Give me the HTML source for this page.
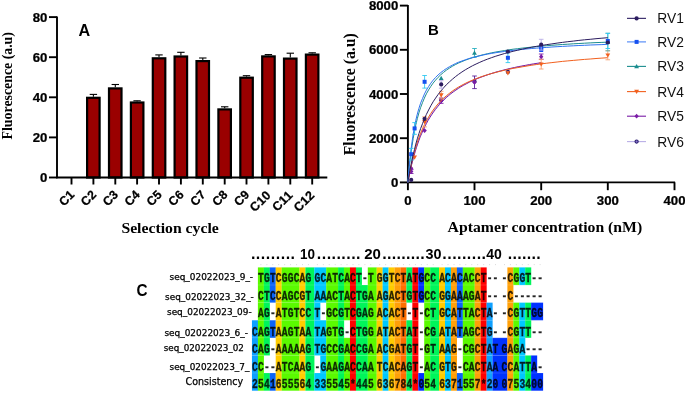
<!DOCTYPE html>
<html lang="en"><head><meta charset="utf-8"><title>Figure</title>
<style>html,body{margin:0;padding:0;background:#fff;overflow:hidden;}svg{display:block;filter:blur(0.45px);}.tk{font-family:"Liberation Sans", Arial, sans-serif;font-weight:700;font-size:12px;fill:#000;stroke:#000;stroke-width:0.25;}.ax{stroke:#000;stroke-width:1.9;fill:none;}.ttl{font-family:"Liberation Serif", "Times New Roman", serif;font-weight:700;font-size:14px;fill:#000;}.pl{font-family:"Liberation Sans", Arial, sans-serif;font-weight:700;font-size:15.5px;fill:#000;}.lg{font-family:"Liberation Sans", Arial, sans-serif;font-size:15px;fill:#111;}.sq{font-family:"Liberation Mono", "Courier New", monospace;font-weight:700;font-size:13px;fill:#000;fill-opacity:0.82;stroke:#000;stroke-width:0.35;stroke-opacity:0.8;}.nm{font-family:"DejaVu Sans", "Liberation Sans", sans-serif;font-size:8.6px;fill:#000;stroke:#000;stroke-width:0.25;}.hd{font-family:"Liberation Sans", Arial, sans-serif;font-weight:700;font-size:14px;fill:#000;}</style></head><body>
<svg width="685" height="409" viewBox="0 0 685 409">
<rect width="685" height="409" fill="#fff"/>
<g id="panelA">
<line class="ax" x1="71.5" y1="177.5" x2="71.5" y2="184.5"/>
<text class="tk" style="font-size:12.3px" text-anchor="end" transform="translate(75.1,195.5) rotate(-45)">C1</text>
<line x1="93.4" y1="96.7" x2="93.4" y2="94.4" stroke="#000" stroke-width="1.1"/>
<line x1="89.7" y1="94.4" x2="97.1" y2="94.4" stroke="#000" stroke-width="1.1"/>
<rect x="87.1" y="97.8" width="12.5" height="79.7" fill="#9a0000" stroke="#000" stroke-width="2.2"/>
<line class="ax" x1="93.4" y1="177.5" x2="93.4" y2="184.5"/>
<text class="tk" style="font-size:12.3px" text-anchor="end" transform="translate(97.0,195.5) rotate(-45)">C2</text>
<line x1="115.3" y1="87.3" x2="115.3" y2="84.5" stroke="#000" stroke-width="1.1"/>
<line x1="111.6" y1="84.5" x2="119.0" y2="84.5" stroke="#000" stroke-width="1.1"/>
<rect x="109.0" y="88.4" width="12.5" height="89.1" fill="#9a0000" stroke="#000" stroke-width="2.2"/>
<line class="ax" x1="115.3" y1="177.5" x2="115.3" y2="184.5"/>
<text class="tk" style="font-size:12.3px" text-anchor="end" transform="translate(118.9,195.5) rotate(-45)">C3</text>
<line x1="137.1" y1="101.4" x2="137.1" y2="100.8" stroke="#000" stroke-width="1.1"/>
<line x1="133.4" y1="100.8" x2="140.8" y2="100.8" stroke="#000" stroke-width="1.1"/>
<rect x="130.9" y="102.5" width="12.5" height="75.0" fill="#9a0000" stroke="#000" stroke-width="2.2"/>
<line class="ax" x1="137.1" y1="177.5" x2="137.1" y2="184.5"/>
<text class="tk" style="font-size:12.3px" text-anchor="end" transform="translate(140.7,195.5) rotate(-45)">C4</text>
<line x1="159.0" y1="57.2" x2="159.0" y2="54.9" stroke="#000" stroke-width="1.1"/>
<line x1="155.3" y1="54.9" x2="162.7" y2="54.9" stroke="#000" stroke-width="1.1"/>
<rect x="152.8" y="58.3" width="12.5" height="119.2" fill="#9a0000" stroke="#000" stroke-width="2.2"/>
<line class="ax" x1="159.0" y1="177.5" x2="159.0" y2="184.5"/>
<text class="tk" style="font-size:12.3px" text-anchor="end" transform="translate(162.6,195.5) rotate(-45)">C5</text>
<line x1="180.9" y1="55.4" x2="180.9" y2="52.3" stroke="#000" stroke-width="1.1"/>
<line x1="177.2" y1="52.3" x2="184.6" y2="52.3" stroke="#000" stroke-width="1.1"/>
<rect x="174.6" y="56.5" width="12.5" height="121.0" fill="#9a0000" stroke="#000" stroke-width="2.2"/>
<line class="ax" x1="180.9" y1="177.5" x2="180.9" y2="184.5"/>
<text class="tk" style="font-size:12.3px" text-anchor="end" transform="translate(184.5,195.5) rotate(-45)">C6</text>
<line x1="202.8" y1="60.0" x2="202.8" y2="58.0" stroke="#000" stroke-width="1.1"/>
<line x1="199.1" y1="58.0" x2="206.5" y2="58.0" stroke="#000" stroke-width="1.1"/>
<rect x="196.5" y="61.1" width="12.5" height="116.4" fill="#9a0000" stroke="#000" stroke-width="2.2"/>
<line class="ax" x1="202.8" y1="177.5" x2="202.8" y2="184.5"/>
<text class="tk" style="font-size:12.3px" text-anchor="end" transform="translate(206.4,195.5) rotate(-45)">C7</text>
<line x1="224.7" y1="108.3" x2="224.7" y2="106.8" stroke="#000" stroke-width="1.1"/>
<line x1="221.0" y1="106.8" x2="228.4" y2="106.8" stroke="#000" stroke-width="1.1"/>
<rect x="218.4" y="109.4" width="12.5" height="68.1" fill="#9a0000" stroke="#000" stroke-width="2.2"/>
<line class="ax" x1="224.7" y1="177.5" x2="224.7" y2="184.5"/>
<text class="tk" style="font-size:12.3px" text-anchor="end" transform="translate(228.3,195.5) rotate(-45)">C8</text>
<line x1="246.5" y1="76.6" x2="246.5" y2="75.7" stroke="#000" stroke-width="1.1"/>
<line x1="242.8" y1="75.7" x2="250.2" y2="75.7" stroke="#000" stroke-width="1.1"/>
<rect x="240.3" y="77.7" width="12.5" height="99.8" fill="#9a0000" stroke="#000" stroke-width="2.2"/>
<line class="ax" x1="246.5" y1="177.5" x2="246.5" y2="184.5"/>
<text class="tk" style="font-size:12.3px" text-anchor="end" transform="translate(250.1,195.5) rotate(-45)">C9</text>
<line x1="268.4" y1="55.3" x2="268.4" y2="54.6" stroke="#000" stroke-width="1.1"/>
<line x1="264.7" y1="54.6" x2="272.1" y2="54.6" stroke="#000" stroke-width="1.1"/>
<rect x="262.2" y="56.4" width="12.5" height="121.1" fill="#9a0000" stroke="#000" stroke-width="2.2"/>
<line class="ax" x1="268.4" y1="177.5" x2="268.4" y2="184.5"/>
<text class="tk" style="font-size:12.5px;letter-spacing:0.25px" text-anchor="end" transform="translate(271.6,195.8) rotate(-45)">C10</text>
<line x1="290.3" y1="57.5" x2="290.3" y2="53.2" stroke="#000" stroke-width="1.1"/>
<line x1="286.6" y1="53.2" x2="294.0" y2="53.2" stroke="#000" stroke-width="1.1"/>
<rect x="284.0" y="58.6" width="12.5" height="118.9" fill="#9a0000" stroke="#000" stroke-width="2.2"/>
<line class="ax" x1="290.3" y1="177.5" x2="290.3" y2="184.5"/>
<text class="tk" style="font-size:12.5px;letter-spacing:0.25px" text-anchor="end" transform="translate(293.5,195.8) rotate(-45)">C11</text>
<line x1="312.2" y1="53.5" x2="312.2" y2="52.8" stroke="#000" stroke-width="1.1"/>
<line x1="308.5" y1="52.8" x2="315.9" y2="52.8" stroke="#000" stroke-width="1.1"/>
<rect x="305.9" y="54.6" width="12.5" height="122.9" fill="#9a0000" stroke="#000" stroke-width="2.2"/>
<line class="ax" x1="312.2" y1="177.5" x2="312.2" y2="184.5"/>
<text class="tk" style="font-size:12.5px;letter-spacing:0.25px" text-anchor="end" transform="translate(315.4,195.8) rotate(-45)">C12</text>
<line class="ax" x1="57.0" y1="16.5" x2="57.0" y2="178.2"/>
<line class="ax" x1="56.4" y1="177.5" x2="327.3" y2="177.5"/>
<line class="ax" x1="49.0" y1="177.5" x2="57.0" y2="177.5"/>
<text class="tk" text-anchor="end" transform="translate(47.4,182.0) scale(1.100,1)">0</text>
<line class="ax" x1="49.0" y1="137.4" x2="57.0" y2="137.4"/>
<text class="tk" text-anchor="end" transform="translate(47.4,141.9) scale(1.100,1)">20</text>
<line class="ax" x1="49.0" y1="97.3" x2="57.0" y2="97.3"/>
<text class="tk" text-anchor="end" transform="translate(47.4,101.8) scale(1.100,1)">40</text>
<line class="ax" x1="49.0" y1="57.2" x2="57.0" y2="57.2"/>
<text class="tk" text-anchor="end" transform="translate(47.4,61.7) scale(1.100,1)">60</text>
<line class="ax" x1="49.0" y1="17.1" x2="57.0" y2="17.1"/>
<text class="tk" text-anchor="end" transform="translate(47.4,21.6) scale(1.100,1)">80</text>
<text class="pl" style="font-size:16.2px" transform="translate(78.6,35.6) scale(1,0.98)">A</text>
<text class="ttl" x="121.4" y="232.8" textLength="97.4" lengthAdjust="spacingAndGlyphs">Selection cycle</text>
<text class="ttl" style="font-size:13.85px" text-anchor="middle" transform="translate(11.6,85.75) rotate(-90) scale(1,1.1)">Fluorescence (a.u)</text>
</g>
<g id="panelB">
<line class="ax" x1="407.9" y1="5.0" x2="407.9" y2="183.1"/>
<line class="ax" x1="407.3" y1="182.4" x2="675.1" y2="182.4"/>
<line class="ax" x1="399.9" y1="182.4" x2="407.9" y2="182.4"/>
<text class="tk" text-anchor="end" transform="translate(398.3,186.9) scale(1.100,1)">0</text>
<line class="ax" x1="399.9" y1="138.2" x2="407.9" y2="138.2"/>
<text class="tk" text-anchor="end" transform="translate(398.3,142.7) scale(1.100,1)">2000</text>
<line class="ax" x1="399.9" y1="94.0" x2="407.9" y2="94.0"/>
<text class="tk" text-anchor="end" transform="translate(398.3,98.5) scale(1.100,1)">4000</text>
<line class="ax" x1="399.9" y1="49.8" x2="407.9" y2="49.8"/>
<text class="tk" text-anchor="end" transform="translate(398.3,54.3) scale(1.100,1)">6000</text>
<line class="ax" x1="399.9" y1="5.6" x2="407.9" y2="5.6"/>
<text class="tk" text-anchor="end" transform="translate(398.3,10.1) scale(1.100,1)">8000</text>
<line class="ax" x1="407.9" y1="182.4" x2="407.9" y2="190.2"/>
<text class="tk" text-anchor="middle" transform="translate(407.9,205.0) scale(1.100,1)">0</text>
<line class="ax" x1="474.5" y1="182.4" x2="474.5" y2="190.2"/>
<text class="tk" text-anchor="middle" transform="translate(474.5,205.0) scale(1.100,1)">100</text>
<line class="ax" x1="541.2" y1="182.4" x2="541.2" y2="190.2"/>
<text class="tk" text-anchor="middle" transform="translate(541.2,205.0) scale(1.100,1)">200</text>
<line class="ax" x1="607.8" y1="182.4" x2="607.8" y2="190.2"/>
<text class="tk" text-anchor="middle" transform="translate(607.8,205.0) scale(1.100,1)">300</text>
<line class="ax" x1="674.5" y1="182.4" x2="674.5" y2="190.2"/>
<text class="tk" text-anchor="middle" transform="translate(674.5,205.0) scale(1.100,1)">400</text>
<text class="pl" style="font-size:15px" transform="translate(428.0,34.9) scale(1,1.03)">B</text>
<text class="ttl" x="447.6" y="231.6" textLength="194.6" lengthAdjust="spacingAndGlyphs">Aptamer concentration (nM)</text>
<text class="ttl" style="font-size:15.75px" text-anchor="middle" transform="translate(354.5,94.3) rotate(-90) scale(1,1.03)">Fluorescence (a.u)</text>
<path d="M407.9 182.4 L408.0 181.9 L408.2 180.8 L408.5 179.0 L408.9 176.9 L409.4 174.3 L410.0 171.4 L410.7 168.2 L411.4 164.8 L412.3 161.3 L413.2 157.7 L414.2 154.0 L415.3 150.2 L416.4 146.5 L417.6 142.8 L418.9 139.2 L420.2 135.6 L421.7 132.2 L423.2 128.8 L424.7 125.5 L426.4 122.3 L428.0 119.3 L429.8 116.3 L431.6 113.5 L433.5 110.8 L435.5 108.2 L437.5 105.7 L439.6 103.4 L441.7 101.1 L443.9 98.9 L446.2 96.8 L448.5 94.8 L450.9 93.0 L453.3 91.1 L455.9 89.4 L458.4 87.8 L461.0 86.2 L463.7 84.7 L466.5 83.3 L469.3 81.9 L472.1 80.6 L475.1 79.3 L478.0 78.1 L481.1 77.0 L484.2 75.9 L487.3 74.8 L490.5 73.8 L493.8 72.8 L497.1 71.9 L500.5 71.0 L503.9 70.2 L507.4 69.4 L510.9 68.6 L514.5 67.8 L518.2 67.1 L521.9 66.4 L525.6 65.7 L529.4 65.1 L533.3 64.5 L537.2 63.9 L541.2 63.3" fill="none" stroke="#b9aee6" stroke-width="1.0"/>
<circle cx="474.5" cy="81.6" r="1.6" fill="#8878cc" stroke="#2c1d70" stroke-width="1.1"/>
<circle cx="507.9" cy="72.0" r="1.6" fill="#8878cc" stroke="#2c1d70" stroke-width="1.1"/>
<circle cx="441.2" cy="100.0" r="1.6" fill="#8878cc" stroke="#2c1d70" stroke-width="1.1"/>
<path d="M407.9 182.4 L408.0 181.9 L408.2 180.8 L408.5 179.2 L408.9 177.1 L409.4 174.6 L410.0 171.9 L410.7 168.8 L411.4 165.5 L412.3 162.1 L413.2 158.6 L414.2 155.0 L415.3 151.3 L416.4 147.7 L417.6 144.1 L418.9 140.5 L420.2 136.9 L421.7 133.5 L423.2 130.1 L424.7 126.8 L426.4 123.6 L428.0 120.6 L429.8 117.6 L431.6 114.8 L433.5 112.0 L435.5 109.4 L437.5 106.8 L439.6 104.4 L441.7 102.1 L443.9 99.9 L446.2 97.7 L448.5 95.7 L450.9 93.7 L453.3 91.9 L455.9 90.1 L458.4 88.4 L461.0 86.7 L463.7 85.2 L466.5 83.7 L469.3 82.2 L472.1 80.9 L475.1 79.6 L478.0 78.3 L481.1 77.1 L484.2 76.0 L487.3 74.9 L490.5 73.8 L493.8 72.8 L497.1 71.8 L500.5 70.9 L503.9 70.0 L507.4 69.1 L510.9 68.3 L514.5 67.5 L518.2 66.7 L521.9 66.0 L525.6 65.3 L529.4 64.6 L533.3 63.9 L537.2 63.3 L541.2 62.7" fill="none" stroke="#7a1ca6" stroke-width="1.0"/>
<path d="M411.2 169.6 V173.5 M408.9 169.6 h4.6 M408.9 173.5 h4.6" stroke="#7a1ca6" stroke-width="0.9" fill="none"/>
<path d="M411.2 169.1 l2.2 2.4 l-2.2 2.4 l-2.2 -2.4z" fill="#7a1ca6"/>
<path d="M411.2 165.9 l2.2 2.4 l-2.2 2.4 l-2.2 -2.4z" fill="#7a1ca6"/>
<path d="M424.6 128.2 l2.2 2.4 l-2.2 2.4 l-2.2 -2.4z" fill="#7a1ca6"/>
<path d="M441.2 98.0 V103.3 M438.9 98.0 h4.6 M438.9 103.3 h4.6" stroke="#7a1ca6" stroke-width="0.9" fill="none"/>
<path d="M441.2 98.2 l2.2 2.4 l-2.2 2.4 l-2.2 -2.4z" fill="#7a1ca6"/>
<path d="M474.5 76.0 V88.6 M472.2 76.0 h4.6 M472.2 88.6 h4.6" stroke="#5a1e96" stroke-width="0.9" fill="none"/>
<path d="M474.5 79.9 l2.2 2.4 l-2.2 2.4 l-2.2 -2.4z" fill="#7a1ca6"/>
<path d="M541.2 54.0 V59.3 M538.9 54.0 h4.6 M538.9 59.3 h4.6" stroke="#7a1ca6" stroke-width="0.9" fill="none"/>
<path d="M541.2 54.3 l2.2 2.4 l-2.2 2.4 l-2.2 -2.4z" fill="#7a1ca6"/>
<path d="M407.9 182.4 L408.0 181.7 L408.3 179.8 L408.8 177.2 L409.4 173.8 L410.2 170.0 L411.1 165.7 L412.1 161.2 L413.2 156.5 L414.5 151.8 L415.8 147.0 L417.3 142.3 L418.9 137.7 L420.6 133.2 L422.5 128.9 L424.4 124.7 L426.4 120.8 L428.6 117.0 L430.8 113.4 L433.1 110.1 L435.6 106.8 L438.1 103.8 L440.8 101.0 L443.5 98.3 L446.3 95.8 L449.3 93.4 L452.3 91.1 L455.4 89.0 L458.6 87.0 L461.9 85.2 L465.3 83.4 L468.8 81.7 L472.4 80.2 L476.1 78.7 L479.8 77.3 L483.7 75.9 L487.6 74.7 L491.7 73.5 L495.8 72.4 L500.0 71.3 L504.3 70.3 L508.7 69.3 L513.1 68.4 L517.7 67.6 L522.3 66.8 L527.0 66.0 L531.8 65.2 L536.7 64.5 L541.7 63.8 L546.8 63.2 L551.9 62.6 L557.1 62.0 L562.4 61.4 L567.8 60.9 L573.3 60.4 L578.9 59.9 L584.5 59.4 L590.2 59.0 L596.0 58.5 L601.9 58.1 L607.8 57.7" fill="none" stroke="#f2601e" stroke-width="1.0"/>
<path d="M414.6 159.8 l2.4 -4.2 h-4.8z" fill="#f2601e"/>
<path d="M424.6 116.8 V126.9 M422.3 116.8 h4.6 M422.3 126.9 h4.6" stroke="#f7a070" stroke-width="0.9" fill="none"/>
<path d="M424.6 124.2 l2.4 -4.2 h-4.8z" fill="#f2601e"/>
<path d="M441.2 91.3 V98.9 M438.9 91.3 h4.6 M438.9 98.9 h4.6" stroke="#f7a070" stroke-width="0.9" fill="none"/>
<path d="M441.2 97.5 l2.4 -4.2 h-4.8z" fill="#f2601e"/>
<path d="M507.9 75.5 l2.4 -4.2 h-4.8z" fill="#f2601e"/>
<path d="M541.2 59.3 V69.0 M538.9 59.3 h4.6 M538.9 69.0 h4.6" stroke="#f7a070" stroke-width="0.9" fill="none"/>
<path d="M541.2 66.6 l2.4 -4.2 h-4.8z" fill="#f2601e"/>
<path d="M607.8 50.6 V59.8 M605.5 50.6 h4.6 M605.5 59.8 h4.6" stroke="#f7a070" stroke-width="0.9" fill="none"/>
<path d="M607.8 57.6 l2.4 -4.2 h-4.8z" fill="#f2601e"/>
<path d="M407.9 182.4 L408.0 180.9 L408.3 177.4 L408.8 172.4 L409.4 166.3 L410.2 159.6 L411.1 152.5 L412.1 145.4 L413.2 138.3 L414.5 131.4 L415.8 124.9 L417.3 118.7 L418.9 112.9 L420.6 107.6 L422.5 102.6 L424.4 98.0 L426.4 93.8 L428.6 89.9 L430.8 86.4 L433.1 83.1 L435.6 80.1 L438.1 77.3 L440.8 74.7 L443.5 72.4 L446.3 70.2 L449.3 68.2 L452.3 66.3 L455.4 64.6 L458.6 63.0 L461.9 61.6 L465.3 60.2 L468.8 58.9 L472.4 57.7 L476.1 56.6 L479.8 55.6 L483.7 54.6 L487.6 53.7 L491.7 52.8 L495.8 52.0 L500.0 51.3 L504.3 50.6 L508.7 49.9 L513.1 49.2 L517.7 48.7 L522.3 48.1 L527.0 47.6 L531.8 47.1 L536.7 46.6 L541.7 46.1 L546.8 45.7 L551.9 45.3 L557.1 44.9 L562.4 44.5 L567.8 44.2 L573.3 43.8 L578.9 43.5 L584.5 43.2 L590.2 42.9 L596.0 42.6 L601.9 42.4 L607.8 42.1" fill="none" stroke="#1b8d8f" stroke-width="1.0"/>
<path d="M441.2 75.8 l2.4 4.2 h-4.8z" fill="#1b8d8f"/>
<path d="M474.5 48.5 V57.3 M472.2 48.5 h4.6 M472.2 57.3 h4.6" stroke="#2ab0c0" stroke-width="0.9" fill="none"/>
<path d="M474.5 50.5 l2.4 4.2 h-4.8z" fill="#1b8d8f"/>
<path d="M607.8 33.2 V50.9 M605.5 33.2 h4.6 M605.5 50.9 h4.6" stroke="#58b8c0" stroke-width="0.9" fill="none"/>
<path d="M607.8 39.7 l2.4 4.2 h-4.8z" fill="#1b8d8f"/>
<path d="M407.9 182.4 L408.0 180.7 L408.3 176.7 L408.8 171.0 L409.4 164.2 L410.2 156.8 L411.1 149.1 L412.1 141.4 L413.2 134.0 L414.5 126.9 L415.8 120.3 L417.3 114.1 L418.9 108.4 L420.6 103.2 L422.5 98.5 L424.4 94.1 L426.4 90.1 L428.6 86.5 L430.8 83.2 L433.1 80.2 L435.6 77.4 L438.1 74.9 L440.8 72.6 L443.5 70.5 L446.3 68.6 L449.3 66.8 L452.3 65.2 L455.4 63.6 L458.6 62.2 L461.9 61.0 L465.3 59.8 L468.8 58.6 L472.4 57.6 L476.1 56.7 L479.8 55.8 L483.7 54.9 L487.6 54.1 L491.7 53.4 L495.8 52.7 L500.0 52.1 L504.3 51.5 L508.7 50.9 L513.1 50.4 L517.7 49.9 L522.3 49.4 L527.0 48.9 L531.8 48.5 L536.7 48.1 L541.7 47.7 L546.8 47.4 L551.9 47.0 L557.1 46.7 L562.4 46.4 L567.8 46.1 L573.3 45.8 L578.9 45.5 L584.5 45.3 L590.2 45.0 L596.0 44.8 L601.9 44.6 L607.8 44.3" fill="none" stroke="#2f74f0" stroke-width="1.0"/>
<path d="M411.2 148.4 V160.1 M408.9 148.4 h4.6 M408.9 160.1 h4.6" stroke="#30c8f0" stroke-width="0.9" fill="none"/>
<rect x="409.2" y="152.2" width="4" height="4" fill="#1650f0"/>
<path d="M414.6 122.6 V134.3 M412.3 122.6 h4.6 M412.3 134.3 h4.6" stroke="#30c8f0" stroke-width="0.9" fill="none"/>
<rect x="412.6" y="126.4" width="4" height="4" fill="#1650f0"/>
<path d="M424.6 75.5 V88.1 M422.3 75.5 h4.6 M422.3 88.1 h4.6" stroke="#30c8f0" stroke-width="0.9" fill="none"/>
<rect x="422.6" y="79.8" width="4" height="4" fill="#1650f0"/>
<path d="M507.9 52.9 V62.6 M505.6 52.9 h4.6 M505.6 62.6 h4.6" stroke="#30c8f0" stroke-width="0.9" fill="none"/>
<rect x="505.9" y="55.8" width="4" height="4" fill="#1650f0"/>
<rect x="539.2" y="45.1" width="4" height="4" fill="#1650f0"/>
<rect x="539.2" y="48.0" width="4" height="4" fill="#1650f0"/>
<path d="M607.8 33.4 V48.5 M605.5 33.4 h4.6 M605.5 48.5 h4.6" stroke="#30c8f0" stroke-width="0.9" fill="none"/>
<rect x="605.8" y="39.0" width="4" height="4" fill="#1650f0"/>
<path d="M407.9 182.4 L408.0 181.6 L408.3 179.7 L408.8 176.9 L409.4 173.3 L410.2 169.2 L411.1 164.6 L412.1 159.7 L413.2 154.6 L414.5 149.4 L415.8 144.1 L417.3 138.8 L418.9 133.7 L420.6 128.6 L422.5 123.7 L424.4 118.9 L426.4 114.4 L428.6 110.0 L430.8 105.8 L433.1 101.8 L435.6 98.1 L438.1 94.5 L440.8 91.1 L443.5 87.9 L446.3 84.8 L449.3 82.0 L452.3 79.3 L455.4 76.7 L458.6 74.3 L461.9 72.0 L465.3 69.8 L468.8 67.8 L472.4 65.8 L476.1 64.0 L479.8 62.3 L483.7 60.6 L487.6 59.1 L491.7 57.6 L495.8 56.2 L500.0 54.9 L504.3 53.6 L508.7 52.4 L513.1 51.3 L517.7 50.2 L522.3 49.1 L527.0 48.2 L531.8 47.2 L536.7 46.3 L541.7 45.5 L546.8 44.6 L551.9 43.9 L557.1 43.1 L562.4 42.4 L567.8 41.7 L573.3 41.1 L578.9 40.4 L584.5 39.8 L590.2 39.3 L596.0 38.7 L601.9 38.2 L607.8 37.7" fill="none" stroke="#2c1d60" stroke-width="1.0"/>
<circle cx="411.2" cy="179.9" r="2.1" fill="#2c1d60"/>
<circle cx="424.6" cy="118.8" r="2.1" fill="#2c1d60"/>
<path d="M441.2 80.7 V88.2 M438.9 80.7 h4.6 M438.9 88.2 h4.6" stroke="#b9aee6" stroke-width="0.9" fill="none"/>
<circle cx="441.2" cy="84.4" r="2.1" fill="#2c1d60"/>
<circle cx="507.9" cy="51.6" r="2.1" fill="#2c1d60"/>
<path d="M541.2 39.3 V50.1 M538.9 39.3 h4.6 M538.9 50.1 h4.6" stroke="#b9aee6" stroke-width="0.9" fill="none"/>
<circle cx="541.2" cy="44.7" r="2.1" fill="#2c1d60"/>
<circle cx="607.8" cy="42.5" r="2.1" fill="#2c1d60"/>
<line x1="627" y1="18.35" x2="646" y2="18.35" stroke="#2c1d60" stroke-width="1.1"/>
<circle cx="636.6" cy="18.4" r="2.1" fill="#2c1d60"/>
<text class="lg" x="657.3" y="23.4" textLength="26.6" lengthAdjust="spacingAndGlyphs">RV1</text>
<line x1="627" y1="41.90" x2="646" y2="41.90" stroke="#4a84f6" stroke-width="1.1"/>
<rect x="634.6" y="39.9" width="4" height="4" fill="#1650f0"/>
<text class="lg" x="657.3" y="46.9" textLength="26.6" lengthAdjust="spacingAndGlyphs">RV2</text>
<line x1="627" y1="66.40" x2="646" y2="66.40" stroke="#1b8d8f" stroke-width="1.1"/>
<path d="M636.6 64.0 l2.4 4.2 h-4.8z" fill="#1b8d8f"/>
<text class="lg" x="657.3" y="71.4" textLength="26.6" lengthAdjust="spacingAndGlyphs">RV3</text>
<line x1="627" y1="91.60" x2="646" y2="91.60" stroke="#f2601e" stroke-width="1.1"/>
<path d="M636.6 94.0 l2.4 -4.2 h-4.8z" fill="#f2601e"/>
<text class="lg" x="657.3" y="96.6" textLength="26.6" lengthAdjust="spacingAndGlyphs">RV4</text>
<line x1="627" y1="116.20" x2="646" y2="116.20" stroke="#7a1ca6" stroke-width="1.1"/>
<path d="M636.6 113.8 l2.2 2.4 l-2.2 2.4 l-2.2 -2.4z" fill="#7a1ca6"/>
<text class="lg" x="657.3" y="121.2" textLength="26.6" lengthAdjust="spacingAndGlyphs">RV5</text>
<line x1="627" y1="141.60" x2="646" y2="141.60" stroke="#b9aee6" stroke-width="1.1"/>
<circle cx="636.6" cy="141.6" r="1.6" fill="#8878cc" stroke="#2c1d70" stroke-width="1.1"/>
<text class="lg" x="657.3" y="146.6" textLength="26.6" lengthAdjust="spacingAndGlyphs">RV6</text>
</g>
<g id="panelC">
<rect x="257.89" y="267.40" width="6.04" height="17.70" fill="#5afa00"/>
<rect x="263.83" y="267.40" width="6.04" height="17.70" fill="#00f55a"/>
<rect x="269.77" y="267.40" width="6.04" height="17.70" fill="#0a64fa"/>
<rect x="275.71" y="267.40" width="6.04" height="17.70" fill="#ffcc00"/>
<rect x="281.65" y="267.40" width="17.92" height="17.70" fill="#5afa00"/>
<rect x="299.47" y="267.40" width="6.04" height="17.70" fill="#ffcc00"/>
<rect x="305.41" y="267.40" width="9.01" height="17.70" fill="#00f55a"/>
<rect x="314.32" y="267.40" width="11.98" height="17.70" fill="#00c8ff"/>
<rect x="326.20" y="267.40" width="11.98" height="17.70" fill="#5afa00"/>
<rect x="338.08" y="267.40" width="6.04" height="17.70" fill="#00f55a"/>
<rect x="344.02" y="267.40" width="6.04" height="17.70" fill="#5afa00"/>
<rect x="349.96" y="267.40" width="6.04" height="17.70" fill="#ff0000"/>
<rect x="355.90" y="267.40" width="6.04" height="17.70" fill="#00f55a"/>
<rect x="367.78" y="267.40" width="9.01" height="17.70" fill="#5afa00"/>
<rect x="376.69" y="267.40" width="6.04" height="17.70" fill="#ffcc00"/>
<rect x="382.63" y="267.40" width="6.04" height="17.70" fill="#00c8ff"/>
<rect x="388.57" y="267.40" width="6.04" height="17.70" fill="#ffcc00"/>
<rect x="394.51" y="267.40" width="6.04" height="17.70" fill="#ffa008"/>
<rect x="400.45" y="267.40" width="6.04" height="17.70" fill="#ff6e00"/>
<rect x="406.39" y="267.40" width="6.04" height="17.70" fill="#00f55a"/>
<rect x="412.33" y="267.40" width="6.04" height="17.70" fill="#ff0000"/>
<rect x="418.27" y="267.40" width="6.04" height="17.70" fill="#0032ff"/>
<rect x="424.21" y="267.40" width="6.04" height="17.70" fill="#5afa00"/>
<rect x="430.15" y="267.40" width="9.01" height="17.70" fill="#00f55a"/>
<rect x="439.06" y="267.40" width="6.04" height="17.70" fill="#ffcc00"/>
<rect x="445.00" y="267.40" width="6.04" height="17.70" fill="#00c8ff"/>
<rect x="450.94" y="267.40" width="6.04" height="17.70" fill="#ffa008"/>
<rect x="456.88" y="267.40" width="6.04" height="17.70" fill="#0a64fa"/>
<rect x="462.82" y="267.40" width="11.98" height="17.70" fill="#5afa00"/>
<rect x="474.70" y="267.40" width="6.04" height="17.70" fill="#ffa008"/>
<rect x="480.64" y="267.40" width="6.04" height="17.70" fill="#ff0000"/>
<rect x="507.37" y="267.40" width="6.04" height="17.70" fill="#ffa008"/>
<rect x="513.31" y="267.40" width="6.04" height="17.70" fill="#5afa00"/>
<rect x="519.25" y="267.40" width="6.04" height="17.70" fill="#00c8ff"/>
<rect x="525.19" y="267.40" width="6.04" height="17.70" fill="#00f55a"/>
<text class="sq" text-anchor="middle" transform="scale(0.74,1)" x="352.6 360.6 368.6 376.7 384.7 392.7 400.7 408.8 416.8 428.8 436.9 444.9 452.9 460.9 469.0 477.0 485.0 493.1 501.1 513.1 521.1 529.2 537.2 545.2 553.3 561.3 569.3 577.3 585.4 597.4 605.4 613.5 621.5 629.5 637.5 645.6 653.6 661.6 669.6 681.7 689.7 697.7 705.8 713.8 721.8 729.9" y="282.1">TGTCGGCAGGCATCACT-TGGTCTATGCCACACACCT---CGGT--</text>
<text class="nm" style="font-size:8.6px" x="169.5" y="280.1" textLength="83.6" lengthAdjust="spacingAndGlyphs">seq_02022023_9_-</text>
<rect x="257.89" y="285.00" width="6.04" height="17.70" fill="#5afa00"/>
<rect x="263.83" y="285.00" width="6.04" height="17.70" fill="#00f55a"/>
<rect x="269.77" y="285.00" width="6.04" height="17.70" fill="#0a64fa"/>
<rect x="275.71" y="285.00" width="6.04" height="17.70" fill="#ffcc00"/>
<rect x="281.65" y="285.00" width="17.92" height="17.70" fill="#5afa00"/>
<rect x="299.47" y="285.00" width="6.04" height="17.70" fill="#ffcc00"/>
<rect x="305.41" y="285.00" width="9.01" height="17.70" fill="#00f55a"/>
<rect x="314.32" y="285.00" width="11.98" height="17.70" fill="#00c8ff"/>
<rect x="326.20" y="285.00" width="11.98" height="17.70" fill="#5afa00"/>
<rect x="338.08" y="285.00" width="6.04" height="17.70" fill="#00f55a"/>
<rect x="344.02" y="285.00" width="6.04" height="17.70" fill="#5afa00"/>
<rect x="349.96" y="285.00" width="6.04" height="17.70" fill="#ff0000"/>
<rect x="355.90" y="285.00" width="11.98" height="17.70" fill="#00f55a"/>
<rect x="367.78" y="285.00" width="9.01" height="17.70" fill="#5afa00"/>
<rect x="376.69" y="285.00" width="6.04" height="17.70" fill="#ffcc00"/>
<rect x="382.63" y="285.00" width="6.04" height="17.70" fill="#00c8ff"/>
<rect x="388.57" y="285.00" width="6.04" height="17.70" fill="#ffcc00"/>
<rect x="394.51" y="285.00" width="6.04" height="17.70" fill="#ffa008"/>
<rect x="400.45" y="285.00" width="6.04" height="17.70" fill="#ff6e00"/>
<rect x="406.39" y="285.00" width="6.04" height="17.70" fill="#00f55a"/>
<rect x="412.33" y="285.00" width="6.04" height="17.70" fill="#ff0000"/>
<rect x="418.27" y="285.00" width="6.04" height="17.70" fill="#0032ff"/>
<rect x="424.21" y="285.00" width="6.04" height="17.70" fill="#5afa00"/>
<rect x="430.15" y="285.00" width="9.01" height="17.70" fill="#00f55a"/>
<rect x="439.06" y="285.00" width="6.04" height="17.70" fill="#ffcc00"/>
<rect x="445.00" y="285.00" width="6.04" height="17.70" fill="#00c8ff"/>
<rect x="450.94" y="285.00" width="6.04" height="17.70" fill="#ffa008"/>
<rect x="456.88" y="285.00" width="6.04" height="17.70" fill="#0a64fa"/>
<rect x="462.82" y="285.00" width="11.98" height="17.70" fill="#5afa00"/>
<rect x="474.70" y="285.00" width="6.04" height="17.70" fill="#ffa008"/>
<rect x="480.64" y="285.00" width="6.04" height="17.70" fill="#ff0000"/>
<rect x="507.37" y="285.00" width="6.04" height="17.70" fill="#ffa008"/>
<text class="sq" text-anchor="middle" transform="scale(0.74,1)" x="352.6 360.6 368.6 376.7 384.7 392.7 400.7 408.8 416.8 428.8 436.9 444.9 452.9 460.9 469.0 477.0 485.0 493.1 501.1 513.1 521.1 529.2 537.2 545.2 553.3 561.3 569.3 577.3 585.4 597.4 605.4 613.5 621.5 629.5 637.5 645.6 653.6 661.6 669.6 681.7 689.7 697.7 705.8 713.8 721.8 729.9" y="299.7">CTCCAGCGTAAACTACTGAAGACTGTGCCGGAAAGAT---C-----</text>
<text class="nm" style="font-size:8.6px" x="165.1" y="300.0" textLength="88.7" lengthAdjust="spacingAndGlyphs">seq_02022023_32_-</text>
<rect x="257.89" y="302.60" width="6.04" height="17.70" fill="#5afa00"/>
<rect x="263.83" y="302.60" width="6.04" height="17.70" fill="#00f55a"/>
<rect x="275.71" y="302.60" width="6.04" height="17.70" fill="#ffcc00"/>
<rect x="281.65" y="302.60" width="17.92" height="17.70" fill="#5afa00"/>
<rect x="299.47" y="302.60" width="6.04" height="17.70" fill="#ffcc00"/>
<rect x="305.41" y="302.60" width="9.01" height="17.70" fill="#00f55a"/>
<rect x="314.32" y="302.60" width="6.04" height="17.70" fill="#00c8ff"/>
<rect x="326.20" y="302.60" width="11.98" height="17.70" fill="#5afa00"/>
<rect x="338.08" y="302.60" width="6.04" height="17.70" fill="#00f55a"/>
<rect x="344.02" y="302.60" width="6.04" height="17.70" fill="#5afa00"/>
<rect x="349.96" y="302.60" width="6.04" height="17.70" fill="#ff0000"/>
<rect x="355.90" y="302.60" width="11.98" height="17.70" fill="#00f55a"/>
<rect x="367.78" y="302.60" width="9.01" height="17.70" fill="#5afa00"/>
<rect x="376.69" y="302.60" width="6.04" height="17.70" fill="#ffcc00"/>
<rect x="382.63" y="302.60" width="6.04" height="17.70" fill="#00c8ff"/>
<rect x="388.57" y="302.60" width="6.04" height="17.70" fill="#ffcc00"/>
<rect x="394.51" y="302.60" width="6.04" height="17.70" fill="#ffa008"/>
<rect x="400.45" y="302.60" width="6.04" height="17.70" fill="#ff6e00"/>
<rect x="412.33" y="302.60" width="6.04" height="17.70" fill="#ff0000"/>
<rect x="424.21" y="302.60" width="6.04" height="17.70" fill="#5afa00"/>
<rect x="430.15" y="302.60" width="9.01" height="17.70" fill="#00f55a"/>
<rect x="439.06" y="302.60" width="6.04" height="17.70" fill="#ffcc00"/>
<rect x="445.00" y="302.60" width="6.04" height="17.70" fill="#00c8ff"/>
<rect x="450.94" y="302.60" width="6.04" height="17.70" fill="#ffa008"/>
<rect x="456.88" y="302.60" width="6.04" height="17.70" fill="#0a64fa"/>
<rect x="462.82" y="302.60" width="11.98" height="17.70" fill="#5afa00"/>
<rect x="474.70" y="302.60" width="6.04" height="17.70" fill="#ffa008"/>
<rect x="480.64" y="302.60" width="6.04" height="17.70" fill="#ff0000"/>
<rect x="486.58" y="302.60" width="6.04" height="17.70" fill="#0ea0ff"/>
<rect x="507.37" y="302.60" width="6.04" height="17.70" fill="#ffa008"/>
<rect x="513.31" y="302.60" width="6.04" height="17.70" fill="#5afa00"/>
<rect x="519.25" y="302.60" width="6.04" height="17.70" fill="#00c8ff"/>
<rect x="525.19" y="302.60" width="6.04" height="17.70" fill="#00f55a"/>
<rect x="531.13" y="302.60" width="11.98" height="17.70" fill="#0032ff"/>
<text class="sq" text-anchor="middle" transform="scale(0.74,1)" x="352.6 360.6 368.6 376.7 384.7 392.7 400.7 408.8 416.8 428.8 436.9 444.9 452.9 460.9 469.0 477.0 485.0 493.1 501.1 513.1 521.1 529.2 537.2 545.2 553.3 561.3 569.3 577.3 585.4 597.4 605.4 613.5 621.5 629.5 637.5 645.6 653.6 661.6 669.6 681.7 689.7 697.7 705.8 713.8 721.8 729.9" y="317.3">AG-ATGTCCT-GCGTCGAGACACT-T-CTGCATTACTA--CGTTGG</text>
<text class="nm" style="font-size:8.6px" x="167.0" y="315.0" textLength="84.6" lengthAdjust="spacingAndGlyphs">seq_02022023_09-</text>
<rect x="251.95" y="320.20" width="6.04" height="17.70" fill="#0ea0ff"/>
<rect x="257.89" y="320.20" width="6.04" height="17.70" fill="#5afa00"/>
<rect x="263.83" y="320.20" width="6.04" height="17.70" fill="#00f55a"/>
<rect x="269.77" y="320.20" width="6.04" height="17.70" fill="#0a64fa"/>
<rect x="275.71" y="320.20" width="6.04" height="17.70" fill="#ffcc00"/>
<rect x="281.65" y="320.20" width="17.92" height="17.70" fill="#5afa00"/>
<rect x="299.47" y="320.20" width="6.04" height="17.70" fill="#ffcc00"/>
<rect x="305.41" y="320.20" width="9.01" height="17.70" fill="#00f55a"/>
<rect x="314.32" y="320.20" width="11.98" height="17.70" fill="#00c8ff"/>
<rect x="326.20" y="320.20" width="11.98" height="17.70" fill="#5afa00"/>
<rect x="338.08" y="320.20" width="6.04" height="17.70" fill="#00f55a"/>
<rect x="349.96" y="320.20" width="6.04" height="17.70" fill="#ff0000"/>
<rect x="355.90" y="320.20" width="11.98" height="17.70" fill="#00f55a"/>
<rect x="367.78" y="320.20" width="9.01" height="17.70" fill="#5afa00"/>
<rect x="376.69" y="320.20" width="6.04" height="17.70" fill="#ffcc00"/>
<rect x="382.63" y="320.20" width="6.04" height="17.70" fill="#00c8ff"/>
<rect x="388.57" y="320.20" width="6.04" height="17.70" fill="#ffcc00"/>
<rect x="394.51" y="320.20" width="6.04" height="17.70" fill="#ffa008"/>
<rect x="400.45" y="320.20" width="6.04" height="17.70" fill="#ff6e00"/>
<rect x="406.39" y="320.20" width="6.04" height="17.70" fill="#00f55a"/>
<rect x="412.33" y="320.20" width="6.04" height="17.70" fill="#ff0000"/>
<rect x="424.21" y="320.20" width="6.04" height="17.70" fill="#5afa00"/>
<rect x="430.15" y="320.20" width="9.01" height="17.70" fill="#00f55a"/>
<rect x="439.06" y="320.20" width="6.04" height="17.70" fill="#ffcc00"/>
<rect x="445.00" y="320.20" width="6.04" height="17.70" fill="#00c8ff"/>
<rect x="450.94" y="320.20" width="6.04" height="17.70" fill="#ffa008"/>
<rect x="456.88" y="320.20" width="6.04" height="17.70" fill="#0a64fa"/>
<rect x="462.82" y="320.20" width="11.98" height="17.70" fill="#5afa00"/>
<rect x="474.70" y="320.20" width="6.04" height="17.70" fill="#ffa008"/>
<rect x="480.64" y="320.20" width="6.04" height="17.70" fill="#ff0000"/>
<rect x="486.58" y="320.20" width="6.04" height="17.70" fill="#0ea0ff"/>
<rect x="507.37" y="320.20" width="6.04" height="17.70" fill="#ffa008"/>
<rect x="513.31" y="320.20" width="6.04" height="17.70" fill="#5afa00"/>
<rect x="519.25" y="320.20" width="6.04" height="17.70" fill="#00c8ff"/>
<rect x="525.19" y="320.20" width="6.04" height="17.70" fill="#00f55a"/>
<text class="sq" text-anchor="middle" transform="scale(0.74,1)" x="344.6 352.6 360.6 368.6 376.7 384.7 392.7 400.7 408.8 416.8 428.8 436.9 444.9 452.9 460.9 469.0 477.0 485.0 493.1 501.1 513.1 521.1 529.2 537.2 545.2 553.3 561.3 569.3 577.3 585.4 597.4 605.4 613.5 621.5 629.5 637.5 645.6 653.6 661.6 669.6 681.7 689.7 697.7 705.8 713.8 721.8 729.9" y="335.8">CAGTAAGTAATAGTG-CTGGATACTAT-CGATATAGCTG--CGTT--</text>
<text class="nm" style="font-size:8.6px" x="164.4" y="336.1" textLength="83.6" lengthAdjust="spacingAndGlyphs">seq_02022023_6_-</text>
<rect x="251.95" y="337.80" width="6.04" height="17.70" fill="#0ea0ff"/>
<rect x="257.89" y="337.80" width="6.04" height="17.70" fill="#5afa00"/>
<rect x="263.83" y="337.80" width="6.04" height="17.70" fill="#00f55a"/>
<rect x="275.71" y="337.80" width="6.04" height="17.70" fill="#ffcc00"/>
<rect x="281.65" y="337.80" width="17.92" height="17.70" fill="#5afa00"/>
<rect x="299.47" y="337.80" width="6.04" height="17.70" fill="#ffcc00"/>
<rect x="305.41" y="337.80" width="9.01" height="17.70" fill="#00f55a"/>
<rect x="314.32" y="337.80" width="11.98" height="17.70" fill="#00c8ff"/>
<rect x="326.20" y="337.80" width="11.98" height="17.70" fill="#5afa00"/>
<rect x="338.08" y="337.80" width="6.04" height="17.70" fill="#00f55a"/>
<rect x="344.02" y="337.80" width="6.04" height="17.70" fill="#5afa00"/>
<rect x="349.96" y="337.80" width="6.04" height="17.70" fill="#ff0000"/>
<rect x="355.90" y="337.80" width="11.98" height="17.70" fill="#00f55a"/>
<rect x="367.78" y="337.80" width="9.01" height="17.70" fill="#5afa00"/>
<rect x="376.69" y="337.80" width="6.04" height="17.70" fill="#ffcc00"/>
<rect x="382.63" y="337.80" width="6.04" height="17.70" fill="#00c8ff"/>
<rect x="388.57" y="337.80" width="6.04" height="17.70" fill="#ffcc00"/>
<rect x="394.51" y="337.80" width="6.04" height="17.70" fill="#ffa008"/>
<rect x="400.45" y="337.80" width="6.04" height="17.70" fill="#ff6e00"/>
<rect x="406.39" y="337.80" width="6.04" height="17.70" fill="#00f55a"/>
<rect x="412.33" y="337.80" width="6.04" height="17.70" fill="#ff0000"/>
<rect x="424.21" y="337.80" width="6.04" height="17.70" fill="#5afa00"/>
<rect x="430.15" y="337.80" width="9.01" height="17.70" fill="#00f55a"/>
<rect x="439.06" y="337.80" width="6.04" height="17.70" fill="#ffcc00"/>
<rect x="445.00" y="337.80" width="6.04" height="17.70" fill="#00c8ff"/>
<rect x="450.94" y="337.80" width="6.04" height="17.70" fill="#ffa008"/>
<rect x="462.82" y="337.80" width="11.98" height="17.70" fill="#5afa00"/>
<rect x="474.70" y="337.80" width="6.04" height="17.70" fill="#ffa008"/>
<rect x="480.64" y="337.80" width="6.04" height="17.70" fill="#ff0000"/>
<rect x="486.58" y="337.80" width="6.04" height="17.70" fill="#0ea0ff"/>
<rect x="492.52" y="337.80" width="14.95" height="17.70" fill="#0032ff"/>
<rect x="507.37" y="337.80" width="6.04" height="17.70" fill="#ffa008"/>
<rect x="513.31" y="337.80" width="6.04" height="17.70" fill="#5afa00"/>
<rect x="519.25" y="337.80" width="6.04" height="17.70" fill="#00c8ff"/>
<text class="sq" text-anchor="middle" transform="scale(0.74,1)" x="344.6 352.6 360.6 368.6 376.7 384.7 392.7 400.7 408.8 416.8 428.8 436.9 444.9 452.9 460.9 469.0 477.0 485.0 493.1 501.1 513.1 521.1 529.2 537.2 545.2 553.3 561.3 569.3 577.3 585.4 597.4 605.4 613.5 621.5 629.5 637.5 645.6 653.6 661.6 669.6 681.7 689.7 697.7 705.8 713.8 721.8 729.9" y="353.3">CAG-AAAAAGTGCCGACCGAACGATGT-GTAAG-CGCTATGAGA---</text>
<text class="nm" style="font-size:8.6px" x="163.7" y="351.1" textLength="80.2" lengthAdjust="spacingAndGlyphs">seq_02022023_02</text>
<rect x="251.95" y="355.40" width="6.04" height="17.70" fill="#0ea0ff"/>
<rect x="257.89" y="355.40" width="6.04" height="17.70" fill="#5afa00"/>
<rect x="275.71" y="355.40" width="6.04" height="17.70" fill="#ffcc00"/>
<rect x="281.65" y="355.40" width="17.92" height="17.70" fill="#5afa00"/>
<rect x="299.47" y="355.40" width="6.04" height="17.70" fill="#ffcc00"/>
<rect x="305.41" y="355.40" width="9.01" height="17.70" fill="#00f55a"/>
<rect x="320.26" y="355.40" width="6.04" height="17.70" fill="#00c8ff"/>
<rect x="326.20" y="355.40" width="11.98" height="17.70" fill="#5afa00"/>
<rect x="338.08" y="355.40" width="6.04" height="17.70" fill="#00f55a"/>
<rect x="344.02" y="355.40" width="6.04" height="17.70" fill="#5afa00"/>
<rect x="349.96" y="355.40" width="6.04" height="17.70" fill="#ff0000"/>
<rect x="355.90" y="355.40" width="11.98" height="17.70" fill="#00f55a"/>
<rect x="367.78" y="355.40" width="9.01" height="17.70" fill="#5afa00"/>
<rect x="376.69" y="355.40" width="6.04" height="17.70" fill="#ffcc00"/>
<rect x="382.63" y="355.40" width="6.04" height="17.70" fill="#00c8ff"/>
<rect x="388.57" y="355.40" width="6.04" height="17.70" fill="#ffcc00"/>
<rect x="394.51" y="355.40" width="6.04" height="17.70" fill="#ffa008"/>
<rect x="400.45" y="355.40" width="6.04" height="17.70" fill="#ff6e00"/>
<rect x="406.39" y="355.40" width="6.04" height="17.70" fill="#00f55a"/>
<rect x="412.33" y="355.40" width="6.04" height="17.70" fill="#ff0000"/>
<rect x="424.21" y="355.40" width="6.04" height="17.70" fill="#5afa00"/>
<rect x="430.15" y="355.40" width="9.01" height="17.70" fill="#00f55a"/>
<rect x="439.06" y="355.40" width="6.04" height="17.70" fill="#ffcc00"/>
<rect x="445.00" y="355.40" width="6.04" height="17.70" fill="#00c8ff"/>
<rect x="450.94" y="355.40" width="6.04" height="17.70" fill="#ffa008"/>
<rect x="462.82" y="355.40" width="11.98" height="17.70" fill="#5afa00"/>
<rect x="474.70" y="355.40" width="6.04" height="17.70" fill="#ffa008"/>
<rect x="480.64" y="355.40" width="6.04" height="17.70" fill="#ff0000"/>
<rect x="486.58" y="355.40" width="6.04" height="17.70" fill="#0ea0ff"/>
<rect x="492.52" y="355.40" width="14.95" height="17.70" fill="#0032ff"/>
<rect x="507.37" y="355.40" width="6.04" height="17.70" fill="#ffa008"/>
<rect x="513.31" y="355.40" width="6.04" height="17.70" fill="#5afa00"/>
<rect x="519.25" y="355.40" width="6.04" height="17.70" fill="#00c8ff"/>
<rect x="525.19" y="355.40" width="6.04" height="17.70" fill="#00f55a"/>
<rect x="531.13" y="355.40" width="6.04" height="17.70" fill="#0032ff"/>
<text class="sq" text-anchor="middle" transform="scale(0.74,1)" x="344.6 352.6 360.6 368.6 376.7 384.7 392.7 400.7 408.8 416.8 428.8 436.9 444.9 452.9 460.9 469.0 477.0 485.0 493.1 501.1 513.1 521.1 529.2 537.2 545.2 553.3 561.3 569.3 577.3 585.4 597.4 605.4 613.5 621.5 629.5 637.5 645.6 653.6 661.6 669.6 681.7 689.7 697.7 705.8 713.8 721.8 729.9" y="370.6">CC--ATCAAG-GAAGACCAATCACAGT-ACGTG-CACTAACCATTA-</text>
<text class="nm" style="font-size:8.6px" x="169.5" y="369.7" textLength="79.9" lengthAdjust="spacingAndGlyphs">seq_02022023_7_</text>
<rect x="251.95" y="373.00" width="6.04" height="17.70" fill="#0ea0ff"/>
<rect x="257.89" y="373.00" width="6.04" height="17.70" fill="#5afa00"/>
<rect x="263.83" y="373.00" width="6.04" height="17.70" fill="#00f55a"/>
<rect x="269.77" y="373.00" width="6.04" height="17.70" fill="#0a64fa"/>
<rect x="275.71" y="373.00" width="6.04" height="17.70" fill="#ffcc00"/>
<rect x="281.65" y="373.00" width="17.92" height="17.70" fill="#5afa00"/>
<rect x="299.47" y="373.00" width="6.04" height="17.70" fill="#ffcc00"/>
<rect x="305.41" y="373.00" width="9.01" height="17.70" fill="#00f55a"/>
<rect x="314.32" y="373.00" width="11.98" height="17.70" fill="#00c8ff"/>
<rect x="326.20" y="373.00" width="11.98" height="17.70" fill="#5afa00"/>
<rect x="338.08" y="373.00" width="6.04" height="17.70" fill="#00f55a"/>
<rect x="344.02" y="373.00" width="6.04" height="17.70" fill="#5afa00"/>
<rect x="349.96" y="373.00" width="6.04" height="17.70" fill="#ff0000"/>
<rect x="355.90" y="373.00" width="11.98" height="17.70" fill="#00f55a"/>
<rect x="367.78" y="373.00" width="9.01" height="17.70" fill="#5afa00"/>
<rect x="376.69" y="373.00" width="6.04" height="17.70" fill="#ffcc00"/>
<rect x="382.63" y="373.00" width="6.04" height="17.70" fill="#00c8ff"/>
<rect x="388.57" y="373.00" width="6.04" height="17.70" fill="#ffcc00"/>
<rect x="394.51" y="373.00" width="6.04" height="17.70" fill="#ffa008"/>
<rect x="400.45" y="373.00" width="6.04" height="17.70" fill="#ff6e00"/>
<rect x="406.39" y="373.00" width="6.04" height="17.70" fill="#00f55a"/>
<rect x="412.33" y="373.00" width="6.04" height="17.70" fill="#ff0000"/>
<rect x="418.27" y="373.00" width="6.04" height="17.70" fill="#0032ff"/>
<rect x="424.21" y="373.00" width="6.04" height="17.70" fill="#5afa00"/>
<rect x="430.15" y="373.00" width="9.01" height="17.70" fill="#00f55a"/>
<rect x="439.06" y="373.00" width="6.04" height="17.70" fill="#ffcc00"/>
<rect x="445.00" y="373.00" width="6.04" height="17.70" fill="#00c8ff"/>
<rect x="450.94" y="373.00" width="6.04" height="17.70" fill="#ffa008"/>
<rect x="456.88" y="373.00" width="6.04" height="17.70" fill="#0a64fa"/>
<rect x="462.82" y="373.00" width="11.98" height="17.70" fill="#5afa00"/>
<rect x="474.70" y="373.00" width="6.04" height="17.70" fill="#ffa008"/>
<rect x="480.64" y="373.00" width="6.04" height="17.70" fill="#ff0000"/>
<rect x="486.58" y="373.00" width="6.04" height="17.70" fill="#0ea0ff"/>
<rect x="492.52" y="373.00" width="14.95" height="17.70" fill="#0032ff"/>
<rect x="507.37" y="373.00" width="6.04" height="17.70" fill="#ffa008"/>
<rect x="513.31" y="373.00" width="6.04" height="17.70" fill="#5afa00"/>
<rect x="519.25" y="373.00" width="6.04" height="17.70" fill="#00c8ff"/>
<rect x="525.19" y="373.00" width="6.04" height="17.70" fill="#00f55a"/>
<rect x="531.13" y="373.00" width="11.98" height="17.70" fill="#0032ff"/>
<text class="sq" text-anchor="middle" transform="scale(0.74,1)" x="344.6 352.6 360.6 368.6 376.7 384.7 392.7 400.7 408.8 416.8 428.8 436.9 444.9 452.9 460.9 469.0 477.0 485.0 493.1 501.1 513.1 521.1 529.2 537.2 545.2 553.3 561.3 569.3 577.3 585.4 597.4 605.4 613.5 621.5 629.5 637.5 645.6 653.6 661.6 669.6 681.7 689.7 697.7 705.8 713.8 721.8 729.9" y="388.0">2541655564335545*445636784*0546371557*200753400</text>
<text class="nm" style="font-size:10.0px" x="185.5" y="384.5" textLength="57.7" lengthAdjust="spacingAndGlyphs">Consistency</text>
<circle cx="260.9" cy="264.6" r="0.55" fill="#d8d8d8"/>
<circle cx="266.9" cy="264.6" r="0.55" fill="#d8d8d8"/>
<circle cx="272.8" cy="264.6" r="0.55" fill="#d8d8d8"/>
<circle cx="278.7" cy="264.6" r="0.55" fill="#d8d8d8"/>
<circle cx="284.7" cy="264.6" r="0.55" fill="#d8d8d8"/>
<circle cx="290.6" cy="264.6" r="0.55" fill="#d8d8d8"/>
<circle cx="296.6" cy="264.6" r="0.55" fill="#d8d8d8"/>
<circle cx="302.5" cy="264.6" r="0.55" fill="#d8d8d8"/>
<circle cx="308.4" cy="264.6" r="0.55" fill="#d8d8d8"/>
<circle cx="317.3" cy="264.6" r="0.55" fill="#d8d8d8"/>
<circle cx="323.3" cy="264.6" r="0.55" fill="#d8d8d8"/>
<circle cx="329.2" cy="264.6" r="0.55" fill="#d8d8d8"/>
<circle cx="335.2" cy="264.6" r="0.55" fill="#d8d8d8"/>
<circle cx="341.1" cy="264.6" r="0.55" fill="#d8d8d8"/>
<circle cx="347.0" cy="264.6" r="0.55" fill="#d8d8d8"/>
<circle cx="353.0" cy="264.6" r="0.55" fill="#d8d8d8"/>
<circle cx="358.9" cy="264.6" r="0.55" fill="#d8d8d8"/>
<circle cx="364.9" cy="264.6" r="0.55" fill="#d8d8d8"/>
<circle cx="370.8" cy="264.6" r="0.55" fill="#d8d8d8"/>
<circle cx="379.7" cy="264.6" r="0.55" fill="#d8d8d8"/>
<circle cx="385.7" cy="264.6" r="0.55" fill="#d8d8d8"/>
<circle cx="391.6" cy="264.6" r="0.55" fill="#d8d8d8"/>
<circle cx="397.5" cy="264.6" r="0.55" fill="#d8d8d8"/>
<circle cx="403.5" cy="264.6" r="0.55" fill="#d8d8d8"/>
<circle cx="409.4" cy="264.6" r="0.55" fill="#d8d8d8"/>
<circle cx="415.4" cy="264.6" r="0.55" fill="#d8d8d8"/>
<circle cx="421.3" cy="264.6" r="0.55" fill="#d8d8d8"/>
<circle cx="427.2" cy="264.6" r="0.55" fill="#d8d8d8"/>
<circle cx="433.2" cy="264.6" r="0.55" fill="#d8d8d8"/>
<circle cx="442.1" cy="264.6" r="0.55" fill="#d8d8d8"/>
<circle cx="448.0" cy="264.6" r="0.55" fill="#d8d8d8"/>
<circle cx="454.0" cy="264.6" r="0.55" fill="#d8d8d8"/>
<circle cx="459.9" cy="264.6" r="0.55" fill="#d8d8d8"/>
<circle cx="465.8" cy="264.6" r="0.55" fill="#d8d8d8"/>
<circle cx="471.8" cy="264.6" r="0.55" fill="#d8d8d8"/>
<circle cx="477.7" cy="264.6" r="0.55" fill="#d8d8d8"/>
<circle cx="483.7" cy="264.6" r="0.55" fill="#d8d8d8"/>
<circle cx="489.6" cy="264.6" r="0.55" fill="#d8d8d8"/>
<circle cx="495.5" cy="264.6" r="0.55" fill="#d8d8d8"/>
<circle cx="504.5" cy="264.6" r="0.55" fill="#d8d8d8"/>
<circle cx="510.4" cy="264.6" r="0.55" fill="#d8d8d8"/>
<circle cx="516.3" cy="264.6" r="0.55" fill="#d8d8d8"/>
<circle cx="522.3" cy="264.6" r="0.55" fill="#d8d8d8"/>
<circle cx="528.2" cy="264.6" r="0.55" fill="#d8d8d8"/>
<circle cx="534.2" cy="264.6" r="0.55" fill="#d8d8d8"/>
<circle cx="540.1" cy="264.6" r="0.55" fill="#d8d8d8"/>
<rect x="252" y="284.5" width="291.1" height="1" fill="#fff" opacity="0.14"/>
<rect x="252" y="302.1" width="291.1" height="1" fill="#fff" opacity="0.14"/>
<rect x="252" y="319.7" width="291.1" height="1" fill="#fff" opacity="0.14"/>
<rect x="252" y="337.3" width="291.1" height="1" fill="#fff" opacity="0.14"/>
<rect x="252" y="354.9" width="291.1" height="1" fill="#fff" opacity="0.14"/>
<rect x="252" y="372.5" width="291.1" height="1" fill="#fff" opacity="0.14"/>
<text class="hd" style="font-size:16px" text-anchor="middle" x="253.2 258.1 263.1 268.1 273.0 277.9 282.9 287.9 292.8" y="259">.........</text>
<text class="hd" style="font-size:16px" text-anchor="middle" x="319.1 324.0 328.9 333.8 338.7 343.6 348.5 353.4 358.3" y="259">.........</text>
<text class="hd" style="font-size:16px" text-anchor="middle" x="384.5 389.2 394.0 398.7 403.4 408.2 412.9 417.7 422.4" y="259">.........</text>
<text class="hd" style="font-size:16px" text-anchor="middle" x="444.6 449.5 454.4 459.3 464.2 469.1 474.0 478.9 483.8" y="259">.........</text>
<text class="hd" style="font-size:16px" text-anchor="middle" x="510.0 514.8 519.5 524.2 529.0 533.8 538.5" y="259">.......</text>
<text class="hd" x="300.0" y="258.9" textLength="15.0" lengthAdjust="spacingAndGlyphs">10</text>
<text class="hd" x="364.2" y="258.9" textLength="16.7" lengthAdjust="spacingAndGlyphs">20</text>
<text class="hd" x="425.5" y="258.9" textLength="16.0" lengthAdjust="spacingAndGlyphs">30</text>
<text class="hd" x="486.2" y="258.9" textLength="15.6" lengthAdjust="spacingAndGlyphs">40</text>
<text class="pl" style="font-size:15.3px" transform="translate(136.5,295.6) scale(1,1.07)">C</text>
</g>
</svg></body></html>
